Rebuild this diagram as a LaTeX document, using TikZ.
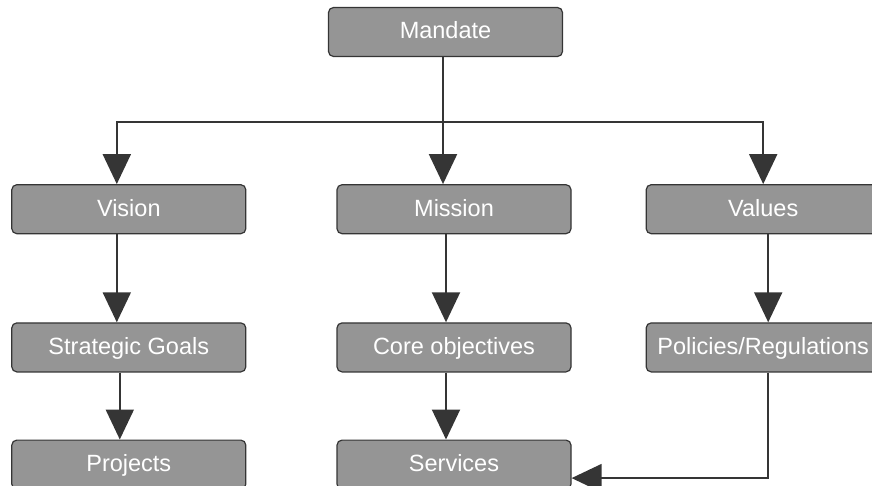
\documentclass[tikz,border=0pt]{standalone}
\usepackage{fontspec}
\setmainfont{Liberation Sans}
\usetikzlibrary{positioning}
\usetikzlibrary{arrows.meta}
\definecolor{boxgray}{HTML}{959595}
\definecolor{edgegray}{HTML}{353535}
\tikzstyle{block} = [rectangle, rounded corners=5pt, fill=boxgray, draw=edgegray,
line width=1.2pt, minimum width=234pt, minimum height=49pt, inner sep=2pt,
text height=18pt, text depth=4pt,
text=white, font=\fontsize{23.5}{28}\selectfont]
\tikzstyle{link} = [draw=edgegray, line width=2pt]
\tikzset{>={Triangle[width=28pt,length=30pt]}}

\begin{document}
\begin{tikzpicture}[x=1pt, y=1pt]
  \useasboundingbox (0,0) rectangle (872,-486);

  \node[block] at (445.5,-32) (mandate) {Mandate};
  \node[block, below=127pt of mandate, xshift=8.5pt] (mission) {Mission};
  \node[block, left=90pt of mission] (vision) {Vision};
  \node[block, right=74pt of mission] (values) {Values};

  \node[block, below=88pt of vision] (goals) {Strategic Goals};
  \node[block, below=88pt of mission] (core) {Core objectives};
  \node[block, below=88pt of values] (policies) {Policies/Regulations};

  \node[block, below=67pt of goals] (projects) {Projects};
  \node[block, below=67pt of core] (services) {Services};

  % mandate splits into the three columns
  \coordinate (split) at ([xshift=-2.5pt]mandate.south |- 0,-122);
  \path[link] ([xshift=-2.5pt]mandate.south) -- (split);
  \path[link, ->] (split) -| ([xshift=-12pt]vision.north);
  \path[link, ->] (split) -- ([xshift=-2.5pt]mandate.south |- mission.north);
  \path[link, ->] (split) -| (values.north);

  \path[link, ->] ([xshift=-12pt]vision.south) -- ([xshift=-12pt]goals.north);
  \path[link, ->] ([xshift=-9pt]goals.south) -- ([xshift=-9pt]projects.north);
  \path[link, ->] ([xshift=-8pt]mission.south) -- ([xshift=-8pt]core.north);
  \path[link, ->] ([xshift=-8pt]core.south) -- ([xshift=-8pt]services.north);
  \path[link, ->] ([xshift=5pt]values.south) -- ([xshift=5pt]policies.north);
  \path[link, ->] ([xshift=5pt]policies.south) |- ([yshift=-13.5pt]services.east);
\end{tikzpicture}
\end{document}
